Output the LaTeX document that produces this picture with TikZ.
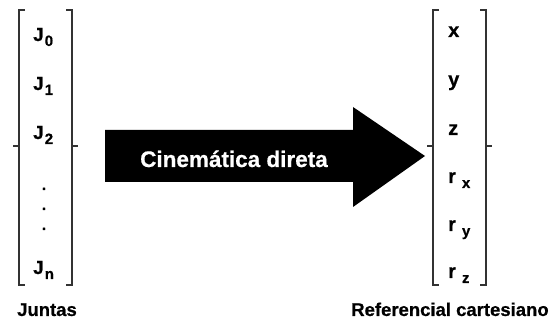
\documentclass[tikz,border=0pt]{standalone}
\usepackage{fontspec}
\setmainfont{Liberation Sans}[BoldFeatures={FakeBold=0.6}]
\tikzset{
  brk/.style={line width=1.6pt, draw=black!80, line cap=butt},
  jlab/.style={anchor=base west, inner sep=0pt, font=\bfseries\fontsize{19}{19}\selectfont},
  vdot/.style={anchor=base, inner sep=0pt, font=\bfseries\fontsize{15}{15}\selectfont},
  entry/.style={anchor=base west, inner sep=0pt, font=\bfseries\fontsize{20}{20}\selectfont},
  caption/.style={anchor=base, inner sep=0pt, font=\bfseries\fontsize{18.5}{18.5}\selectfont},
  bigarrow/.style={fill=black, draw=none},
  arrowtext/.style={anchor=base, inner sep=0pt, text=white, font=\bfseries\fontsize{22.5}{22.5}\selectfont},
}
% subscripts for the joint and pose entries
\newcommand{\jsub}[1]{\kern1pt\raisebox{-5pt}{\fontsize{15}{15}\selectfont #1}}
\newcommand{\rsub}[1]{\kern6pt\raisebox{-5pt}{\fontsize{15}{15}\selectfont #1}}
% one column bracket: left x, right x
\newcommand{\colbracket}[2]{%
  \draw[brk] ({#1+6},10) -| (#1,285) -- ({#1+6},285);
  \draw[brk] ({#2-6},10) -| (#2,285) -- ({#2-6},285);
  \draw[brk] ({#1-6},146) -- (#1,146);
  \draw[brk] (#2,146) -- ({#2+6},146);
}
\begin{document}
\begin{tikzpicture}[x=1pt,y=-1pt]
  \useasboundingbox (0,0) rectangle (560,320);

  % joint vector
  \colbracket{19}{72}
  \node[jlab] (j0) at (33,41) {J\jsub{0}};
  \node[jlab] (j1) at (33,90) {J\jsub{1}};
  \node[jlab] (j2) at (33,139) {J\jsub{2}};
  \node[vdot] (d1) at (44,190) {.};
  \node[vdot] (d2) at (44,210) {.};
  \node[vdot] (d3) at (44,230) {.};
  \node[jlab] (jn) at (33,274) {J\jsub{n}};
  \node[caption] (juntas) at (47,316) {Juntas};

  % cartesian vector
  \colbracket{433}{486}
  \node[entry] (px) at (448,37) {x};
  \node[entry] (py) at (448,86) {y};
  \node[entry] (pz) at (448,135) {z};
  \node[entry] (rx) at (448,183) {r\rsub{x}};
  \node[entry] (ry) at (448,231) {r\rsub{y}};
  \node[entry] (rz) at (448,278) {r\rsub{z}};
  \node[caption] (cart) at (450,316) {Referencial cartesiano};

  % forward kinematics arrow
  \path[bigarrow] (105,130) -- (353,130) -- (353,107) -- (425,156)
    -- (353,207) -- (353,182) -- (105,182) -- cycle;
  \node[arrowtext] (fk) at (234,167) {Cinemática direta};
\end{tikzpicture}
\end{document}
